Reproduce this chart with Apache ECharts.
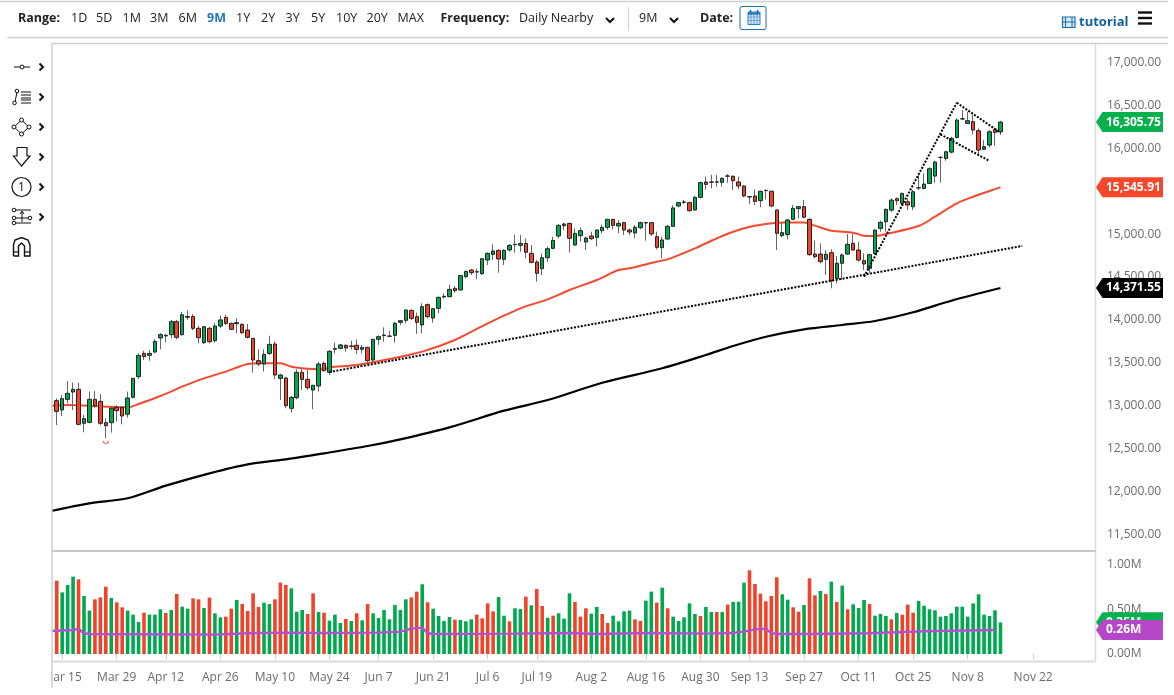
<!DOCTYPE html>
<html>
<head>
<meta charset="utf-8">
<title>tutorial</title>
<script src="https://cdn.jsdelivr.net/npm/echarts@6/dist/echarts.min.js"></script>
<style>
  html, body { margin: 0; padding: 0; background: #fff; }
  #chart { width: 1174px; height: 695px; }
</style>
</head>
<body>
<div id="chart"></div>
<script>
var tickLabels = ['Mar 15','Mar 29','Apr 12','Apr 26','May 10','May 24','Jun 7','Jun 21','Jul 6','Jul 19','Aug 2','Aug 16','Aug 30','Sep 13','Sep 27','Oct 11','Oct 25','Nov 8','Nov 22'];
var priceTicks = [11500,12000,12500,13000,13500,14000,14500,15000,15500,16000,16500,17000];
var volumeTicks = [0,0.5,1];

// open, close, low, high, one row per trading day from Mar 11
var ohlc = [
['-','-','-','-'],
[13059,12934,12775,13086],[12950,13082,12880,13125],[13074,13144,13028,13288],[13160,13191,12950,13269],[13191,12783,12771,13269],
[12795,12849,12690,12892],[12806,13074,12795,13164],[13074,13000,12970,13172],[13051,12795,12775,13137],[12802,12767,12620,12853],
[12802,12970,12686,12981],[12981,12942,12814,13008],[12981,12880,12783,12997],[12900,13090,12861,13164],[13098,13319,13086,13319],
[13339,13587,13311,13610],[13610,13572,13533,13642],[13587,13610,13525,13649],[13626,13750,13610,13774],[13789,13828,13657,13844],
[13820,13813,13735,13836],[13828,13980,13785,14000],[13980,13797,13774,14000],[13828,14060,13815,14095],[14040,14030,14000,14110],
[14040,13902,13880,14070],[13902,13793,13727,13929],[13735,13921,13719,13929],[13902,13746,13727,13921],[13758,13929,13735,13968],
[13929,14000,13902,14050],[14030,13960,13940,14060],[13960,13890,13882,13968],[13968,13956,13844,14020],[13948,13851,13836,13960],
[13882,13797,13785,13952],[13785,13533,13385,13785],[13525,13486,13463,13657],[13486,13599,13397,13657],[13610,13715,13591,13816],
[13719,13358,13307,13746],[13319,13358,13067,13370],[13323,13000,12970,13338],[12970,13098,12919,13113],[13094,13389,13074,13424],
[13389,13307,13183,13436],[13307,13210,13183,13424],[13183,13238,12958,13241],[13230,13486,13164,13513],[13494,13408,13397,13513],
[13389,13634,13358,13649],[13658,13665,13610,13735],[13669,13708,13657,13719],[13704,13673,13630,13715],[13696,13692,13657,13758],
[13704,13657,13599,13774],[13657,13680,13610,13708],[13680,13525,13494,13688],[13533,13774,13486,13774],[13774,13805,13708,13820],
[13817,13824,13746,13914],[13812,13809,13805,13875],[13820,13960,13735,13976],[13972,13991,13941,13999],[13995,14115,13960,14123],
[14111,14018,13999,14123],[14038,13972,13836,14084],[13941,14154,13844,14193],[14178,14038,14018,14193],[14022,14131,13968,14139],
[14135,14263,14077,14271],[14267,14275,14251,14310],[14271,14356,14263,14411],[14368,14341,14318,14395],[14349,14516,14341,14523],
[14504,14566,14485,14574],[14582,14551,14523,14593],[14558,14562,14473,14597],[14539,14714,14523,14722],[14698,14776,14640,14788],
[14764,14803,14698,14881],[14811,14710,14551,14823],[14706,14811,14640,14823],[14815,14869,14795,14885],[14877,14881,14784,14994],
[14869,14892,14795,14990],[14892,14788,14718,14951],[14776,14671,14659,14873],[14675,14543,14446,14698],[14597,14725,14523,14776],
[14725,14830,14679,14854],[14834,14927,14823,14970],[14978,15102,14951,15118],[15098,15118,15048,15133],[15125,14951,14784,15133],
[14873,15009,14861,15067],[14982,15040,14912,15079],[14908,14955,14815,14970],[14978,14947,14931,15028],[14962,15048,14854,15056],
[15040,15079,15009,15110],[15079,15172,15048,15180],[15172,15102,15056,15180],[15095,15125,15009,15164],[15134,15048,14990,15145],
[15048,15025,14990,15067],[15013,15079,14951,15106],[15075,15134,15056,15145],[15130,15134,14924,15141],[15134,15002,14978,15141],
[14970,14846,14823,15029],[14842,14932,14718,14970],[14943,15091,14932,15106],[15091,15305,15087,15336],[15328,15367,15312,15375],
[15371,15375,15351,15398],[15367,15273,15262,15378],[15281,15429,15273,15444],[15429,15600,15417,15612],[15608,15580,15522,15670],
[15604,15608,15534,15693],[15606,15610,15553,15689],[15604,15650,15553,15662],[15675,15678,15600,15701],[15674,15623,15514,15685],
[15608,15561,15522,15670],[15561,15444,15429,15569],[15437,15433,15351,15444],[15444,15382,15340,15522],[15390,15499,15312,15507],
[15507,15510,15405,15522],[15499,15328,15312,15507],[15281,15009,14815,15289],[14982,15017,14963,15126],[14994,15165,14939,15172],
[15172,15301,15165,15340],[15297,15320,15184,15328],[15320,15196,15184,15398],[15172,14761,14745,15184],[14768,14737,14718,14924],
[14768,14679,14660,14893],[14706,14765,14524,14815],[14784,14458,14368,14823],[14485,14660,14427,14745],[14660,14757,14465,14776],
[14768,14881,14757,15002],[14893,14815,14807,15002],[14815,14698,14679,14912],[14691,14652,14582,14776],[14601,14761,14543,14768],
[14775,15047,14757,15056],[15067,15137,15028,15156],[15144,15288,15028,15300],[15280,15397,15261,15416],[15413,15389,15339,15428],
[15358,15475,15339,15482],[15377,15339,15280,15416],[15319,15494,15280,15513],[15538,15541,15513,15688],[15533,15583,15521,15708],
[15591,15762,15583,15778],[15677,15840,15599,15855],[15892,15895,15599,15910],[15882,15960,15855,15972],[15956,16116,15941,16135],
[16127,16329,16116,16349],[16342,16345,16329,16446],[16290,16322,16283,16426],[16310,16213,16162,16388],[16205,15980,15921,16232],
[15988,16019,15980,16096],[16038,16193,16011,16213],[16220,16186,16030,16240],[16193,16305.75,16155,16320]
];

// day number, value
var ma50Points = [[0,13000],[3,13008],[8,12997],[10,12989],[14,12981],[16,13020],[20,13113],[24,13222],[28,13319],[32,13397],[36,13486],[38,13494],[42,13494],[44,13455],[46,13436],[48,13428],[50,13424],[51,13447],[56,13474],[62,13544],[68,13630],[74,13766],[80,13960],[86,14135],[91,14240],[95,14349],[100,14465],[104,14582],[106,14601],[111,14679],[113,14706],[118,14834],[123,14978],[127,15068],[131,15118],[135,15134],[138,15134],[140,15099],[143,15040],[147,15017],[149,14981],[151,14977],[153,15001],[159,15094],[162,15203],[166,15358],[169,15436],[172,15502],[174,15545.91]];
var ma200Points = [[0,11773],[7,11862],[14,11921],[21,12068],[29,12212],[36,12317],[43,12375],[50,12445],[58,12530],[64,12608],[73,12748],[83,12942],[91,13066],[101,13268],[112,13436],[120,13591],[125,13696],[131,13804],[138,13890],[145,13941],[151,13987],[158,14089],[165,14224],[174,14371.55]];

var trendLong = [[51,13393],[178,14862]];
var trendSteep = [[149,14503],[166,16531]];
var flagUpper = [[166,16531],[174,16182]];
var flagLower = [[163,16163],[172,15852]];
var lowMark = [[10,12575]];

// millions, one per day from Mar 11
var volumes = ['-',
0.818,0.688,0.770,0.863,0.833,0.647,0.484,0.610,0.632,0.751,0.625,0.577,0.521,0.484,0.439,0.357,0.461,0.439,0.439,0.499,
0.458,0.491,0.670,0.528,0.506,0.621,0.610,0.513,0.629,0.454,0.409,0.417,0.506,0.603,0.558,0.480,0.677,0.525,0.573,0.558,
0.610,0.796,0.770,0.733,0.472,0.491,0.446,0.677,0.469,0.461,0.372,0.439,0.346,0.391,0.368,0.454,0.376,0.558,0.454,0.402,
0.491,0.387,0.547,0.491,0.610,0.632,0.696,0.778,0.577,0.506,0.424,0.368,0.413,0.383,0.379,0.365,0.387,0.439,0.398,0.565,
0.476,0.636,0.428,0.365,0.510,0.502,0.640,0.543,0.725,0.536,0.405,0.428,0.454,0.394,0.677,0.580,0.417,0.510,0.450,0.525,
0.446,0.346,0.428,0.365,0.476,0.484,0.387,0.368,0.595,0.696,0.573,0.740,0.510,0.417,0.368,0.409,0.565,0.446,0.424,0.525,
0.469,0.469,0.469,0.551,0.580,0.584,0.796,0.934,0.781,0.673,0.588,0.647,0.856,0.666,0.606,0.521,0.472,0.547,0.844,0.655,
0.703,0.670,0.807,0.580,0.763,0.499,0.554,0.513,0.603,0.558,0.428,0.446,0.424,0.387,0.458,0.439,0.551,0.461,0.592,0.539,
0.499,0.487,0.417,0.424,0.454,0.528,0.528,0.417,0.565,0.666,0.439,0.424,0.487,0.353];
var volumeSides = ' rgggrggrrrgrrgggrggg'
  + 'rgrggrrgrggrrgrrrrgg'
  + 'rrrgggrrgrgggrgrgrgg'
  + 'gggggrrgrggggrgggrrr'
  + 'rggrggrgrrgrgggrrrgg'
  + 'rrggggrrggrgrgggggrg'
  + 'grgrgggrrrrrrggrrgrrg'
  + 'rgrgrgggrgggrgrrrggggg';
var volumeAvgPoints = [[0,0.257],[4,0.268],[5,0.279],[6,0.231],[7,0.223],[17,0.220],[30,0.216],[36,0.231],[42,0.238],[50,0.234],[60,0.238],[64,0.249],[66,0.283],[68,0.294],[69,0.231],[70,0.223],[85,0.227],[95,0.234],[100,0.223],[110,0.234],[120,0.227],[125,0.234],[127,0.249],[129,0.275],[131,0.283],[132,0.231],[133,0.223],[138,0.223],[150,0.231],[160,0.253],[165,0.260],[173,0.268]];

var rangeButtons = [['1D',71],['5D',96],['1M',122.5],['3M',150],['6M',178.5],['9M',207],['1Y',236],['2Y',261],['3Y',285.5],['5Y',311],['10Y',336],['20Y',366.5],['MAX',397.5]];

var green = '#00a84f', red = '#f0432a', gridGray = '#d0d0d0', axisText = '#6b6b6b';
var font = '"Open Sans", "Noto Sans", sans-serif';

// trading days up to Nov 16, then plain calendar days like the source axis
function makeDates() {
  var names = ['Jan','Feb','Mar','Apr','May','Jun','Jul','Aug','Sep','Oct','Nov','Dec'];
  var closed = ['Apr 2','May 31','Jul 5','Sep 6'];
  var out = [];
  var d = new Date(Date.UTC(2021, 2, 11));
  while (out.length < 192) {
    var label = names[d.getUTCMonth()] + ' ' + d.getUTCDate();
    var wd = d.getUTCDay();
    if (out.length > 174 || (wd != 0 && wd != 6 && closed.indexOf(label) < 0)) out.push(label);
    d.setUTCDate(d.getUTCDate() + 1);
  }
  return out;
}
var dates = makeDates();

function isTickDay(i, value) {
  return tickLabels.indexOf(value) >= 0;
}

// bodies only, so the thin grey wicks of the layer below stay visible
function bodyRow(row) {
  if (row[0] == '-') return row;
  return [row[0], row[1], Math.min(row[0], row[1]), Math.max(row[0], row[1])];
}

function trendSeries(points) {
  return {
    type: 'line', data: points, xAxisIndex: 0, yAxisIndex: 0, showSymbol: false, symbol: 'none', silent: true, z: 5,
    lineStyle: { color: '#000', width: 2, type: [2, 1.5] }
  };
}

function hLine(x1, x2, y, color, w) {
  return { type: 'line', z: 103, silent: true, shape: { x1: x1, y1: y, x2: x2, y2: y }, style: { stroke: color || gridGray, lineWidth: w || 1.5 } };
}
function vLine(x, y1, y2, color, w) {
  return { type: 'line', z: 103, silent: true, shape: { x1: x, y1: y1, x2: x, y2: y2 }, style: { stroke: color || gridGray, lineWidth: w || 1.5 } };
}
function label(text, x, y, opts) {
  opts = opts || {};
  return { type: 'text', z: 102, silent: true, x: x, y: y, style: {
    text: text, fill: opts.color || '#222', font: (opts.bold ? 'bold ' : '') + (opts.size || 12.5) + 'px ' + font,
    textAlign: opts.align || 'left', textVerticalAlign: 'middle'
  } };
}
function chevron(x, y) {
  return { type: 'polyline', z: 102, silent: true, shape: { points: [[x, y - 3.5], [x + 3.5, y], [x, y + 3.5]] }, style: { stroke: '#111', lineWidth: 2, fill: null } };
}
function chevronDown(x, y) {
  return { type: 'polyline', z: 102, silent: true, shape: { points: [[x - 4, y - 2], [x, y + 2], [x + 4, y - 2]] }, style: { stroke: '#111', lineWidth: 2, fill: null } };
}
function ring(x, y, r, w) {
  return { type: 'circle', z: 102, silent: true, shape: { cx: x, cy: y, r: r }, style: { stroke: '#111', lineWidth: w || 1, fill: '#fff' } };
}
function stroke(points, w) {
  return { type: 'polyline', z: 102, silent: true, shape: { points: points }, style: { stroke: '#111', lineWidth: w || 1, fill: null } };
}

function toolbarIcons() {
  var g = [];
  [67, 97, 127, 157, 187, 217].forEach(function(y) { g.push(chevron(39.5, y)); });
  // line
  g.push(stroke([[14, 67], [30, 67]]), ring(22, 67, 2));
  // fib levels
  g.push(stroke([[15, 102], [17, 92]]), ring(17, 91, 1.8), ring(14.5, 103, 1.8));
  [92, 95, 98, 100, 103].forEach(function(y) { g.push(stroke([[21, y], [31, y]])); });
  // pattern
  g.push(stroke([[21.5, 120], [29, 127], [21.5, 134], [14, 127], [21.5, 120]]));
  g.push(ring(21.5, 120, 2), ring(29, 127, 2), ring(21.5, 134, 2), ring(14, 127, 2));
  // arrow
  g.push(stroke([[17, 147.5], [27, 147.5], [27, 156], [30, 156], [21.5, 166], [13.5, 156], [17, 156], [17, 147.5]], 1.2));
  // numbered marker
  g.push(ring(21.5, 187, 9.5, 1.2), label('1', 21.5, 188, { size: 12, align: 'center', color: '#111' }));
  // measure
  g.push(stroke([[15, 210], [31, 210]]), stroke([[14, 218], [30, 218]]), stroke([[14, 223], [31, 223]]));
  g.push(ring(14, 210, 1.8), ring(14, 218, 1.8), ring(30, 218, 1.8), ring(14, 223, 1.8));
  g.push(stroke([[22, 212], [22, 222]]), stroke([[20, 214], [22, 211], [24, 214]]));
  // magnet
  g.push(stroke([[13.5, 256], [13.5, 245], [15, 240], [21.5, 237.5], [28, 240], [30, 245], [30, 256], [24.5, 256], [24.5, 246], [21.5, 243], [18.5, 246], [18.5, 256], [13.5, 256]], 1.4));
  g.push(hLine(13.5, 18.5, 252, '#111', 1.2), hLine(24.5, 30, 252, '#111', 1.2));
  return g;
}

function headerElements() {
  var g = [];
  g.push(hLine(0, 1168, 1.5), hLine(7, 1168, 37.5), hLine(52, 1168, 43.5));
  g.push(label('Range:', 18, 18, { bold: true, size: 12.5 }));
  rangeButtons.forEach(function(b) {
    g.push(label(b[0], b[1], 18.5, b[0] == '9M' ? { bold: true, color: '#2477bd' } : {}));
  });
  g.push(label('Frequency:', 440.5, 18, { bold: true }));
  g.push(label('Daily Nearby', 519, 18));
  g.push(chevronDown(610, 20));
  g.push(vLine(628.5, 7, 31, gridGray, 1));
  g.push(label('9M', 639, 18));
  g.push(chevronDown(674, 20));
  g.push(label('Date:', 700, 18, { bold: true }));
  // calendar button
  g.push({ type: 'rect', z: 101, silent: true, shape: { x: 740, y: 6.5, width: 26, height: 23, r: 2 }, style: { stroke: '#1d6db0', lineWidth: 1, fill: '#fff' } });
  g.push({ type: 'rect', z: 102, silent: true, shape: { x: 748, y: 12, width: 12, height: 12.5 }, style: { stroke: '#2b7fc0', lineWidth: 1, fill: '#cfe2f2' } });
  [751, 754, 757].forEach(function(x) { g.push(vLine(x, 14, 24.5, '#5a9bd0', 0.8)); });
  [17, 20.5].forEach(function(y) { g.push(hLine(748, 760, y, '#5a9bd0', 0.8)); });
  g.push(hLine(748, 760, 13.5, '#2b7fc0', 2.5));
  [750.5, 757.5].forEach(function(x) { g.push(vLine(x, 10, 14, '#1d6db0', 1.6)); });
  // tutorial icon
  g.push({ type: 'rect', z: 102, silent: true, shape: { x: 1062.5, y: 17, width: 12.5, height: 10.5 }, style: { stroke: '#1a6fb0', lineWidth: 1.2, fill: '#d6e7f5' } });
  [1065.5, 1072].forEach(function(x) { g.push(vLine(x, 17, 27.5, '#1a6fb0', 1)); });
  g.push(hLine(1062.5, 1075, 22, '#1a6fb0', 1));
  g.push(label('tutorial', 1079, 22.5, { bold: true, color: '#125f9e', size: 13 }));
  [12.5, 18, 23.5].forEach(function(y) { g.push(hLine(1138, 1152, y, '#111', 2.4)); });
  return g;
}

function frameElements() {
  return [
    // hides what runs past the left edge of the plot, including the clipped first date label
    { type: 'rect', z: 100, silent: true, shape: { x: 0, y: 44, width: 51.5, height: 651 }, style: { fill: '#fff' } },
    vLine(52, 43, 688),
    vLine(1095.5, 43, 661, '#dcdcdc'),
    hLine(52, 1095.5, 551, '#c8c8c8', 2),
    hLine(52, 1095.5, 661.5, '#dcdcdc', 2)
  ];
}

function badge(y, text, color, z) {
  return [
    { type: 'polygon', z: z, silent: true, shape: { points: [[1096, y], [1102.5, y - 10], [1163, y - 10], [1163, y + 10], [1102.5, y + 10]] }, style: { fill: color } },
    { type: 'text', z: z + 1, silent: true, x: 1106, y: y, style: { text: text, fill: '#fff', font: 'bold 12px ' + font, textVerticalAlign: 'middle' } }
  ];
}

var chart = echarts.init(document.getElementById('chart'), null, { renderer: 'canvas' });

var option = {
  animation: false,
  backgroundColor: '#fff',
  textStyle: { fontFamily: font },
  grid: [
    { left: 48.54, width: 1047.36, top: 44, height: 507 },
    { left: 48.54, width: 1047.36, top: 552, height: 102 }
  ],
  xAxis: [
    { type: 'category', data: dates, gridIndex: 0, show: false },
    {
      type: 'category', data: dates, gridIndex: 1, offset: 7,
      axisLine: { show: false },
      axisTick: { show: true, interval: isTickDay, alignWithLabel: true, length: 5, lineStyle: { color: '#cfcfcf' } },
      axisLabel: { interval: isTickDay, color: axisText, fontSize: 12, margin: 11, hideOverlap: false, showMinLabel: true, fontFamily: font }
    }
  ],
  yAxis: [
    {
      type: 'value', gridIndex: 0, position: 'right', min: 11306.5, max: 17216, scale: true,
      splitLine: { show: false }, axisLine: { show: false }, axisTick: { show: false },
      axisLabel: {
        customValues: priceTicks, color: axisText, fontSize: 12, margin: 11, fontFamily: font,
        formatter: function(v) { return v.toLocaleString('en-US', { minimumFractionDigits: 2, maximumFractionDigits: 2 }); }
      }
    },
    {
      type: 'value', gridIndex: 1, position: 'right', min: 0, max: 1.138,
      splitLine: { show: false }, axisLine: { show: false }, axisTick: { show: false },
      axisLabel: {
        customValues: volumeTicks, color: axisText, fontSize: 12, margin: 11, fontFamily: font,
        formatter: function(v) { return v.toFixed(2) + 'M'; }
      }
    }
  ],
  series: [
    {
      type: 'line', data: ma200Points, xAxisIndex: 0, yAxisIndex: 0, symbol: 'none', smooth: 0.3, silent: true, z: 2,
      lineStyle: { color: '#000', width: 2.2 }
    },
    {
      type: 'line', data: ma50Points, xAxisIndex: 0, yAxisIndex: 0, symbol: 'none', smooth: 0.3, silent: true, z: 2,
      lineStyle: { color: '#f4492e', width: 2 }
    },
    {
      type: 'candlestick', data: ohlc, xAxisIndex: 0, yAxisIndex: 0, barWidth: 1, z: 3, silent: true,
      itemStyle: { color: '#666', color0: '#666', borderColor: '#666', borderColor0: '#666', borderWidth: 1 }
    },
    {
      type: 'candlestick', data: ohlc.map(bodyRow), xAxisIndex: 0, yAxisIndex: 0, barWidth: 4, z: 4,
      itemStyle: { color: green, color0: red, borderColor: '#222', borderColor0: '#222', borderWidth: 1 }
    },
    trendSeries(trendLong),
    trendSeries(trendSteep),
    trendSeries(flagUpper),
    trendSeries(flagLower),
    {
      type: 'scatter', data: lowMark, xAxisIndex: 0, yAxisIndex: 0, silent: true, z: 4,
      symbol: 'path://M0 0 A5 5 0 0 0 10 0', symbolSize: [5, 3],
      itemStyle: { color: 'rgba(0,0,0,0)', borderColor: red, borderWidth: 1 }
    },
    {
      type: 'bar', xAxisIndex: 1, yAxisIndex: 1, barWidth: 3.6, z: 2,
      data: volumes.map(function(v, i) {
        return { value: v, itemStyle: { color: volumeSides.charAt(i) == 'r' ? red : green } };
      })
    },
    {
      type: 'line', data: volumeAvgPoints, xAxisIndex: 1, yAxisIndex: 1, symbol: 'none', silent: true, z: 3,
      lineStyle: { color: '#b44fd2', width: 2.4 }
    }
  ]
};
chart.setOption(option);

// axis badges sit on the value the scale gives for the last reading
function yOf(index, v) {
  return chart.convertToPixel({ yAxisIndex: index }, v);
}
var elements = []
  .concat(frameElements(), headerElements(), toolbarIcons())
  .concat(badge(yOf(0, 16305.75), '16,305.75', '#0bb04e', 104))
  .concat(badge(yOf(0, 15545.91), '15,545.91', '#f4472b', 104))
  .concat(badge(yOf(0, 14371.55), '14,371.55', '#000', 104))
  .concat(badge(yOf(1, 0.353), '0.35M', '#0bb04e', 104))
  .concat(badge(yOf(1, 0.268), '0.26M', '#b548c6', 106));
chart.setOption({ graphic: { elements: elements } });
</script>
</body>
</html>
